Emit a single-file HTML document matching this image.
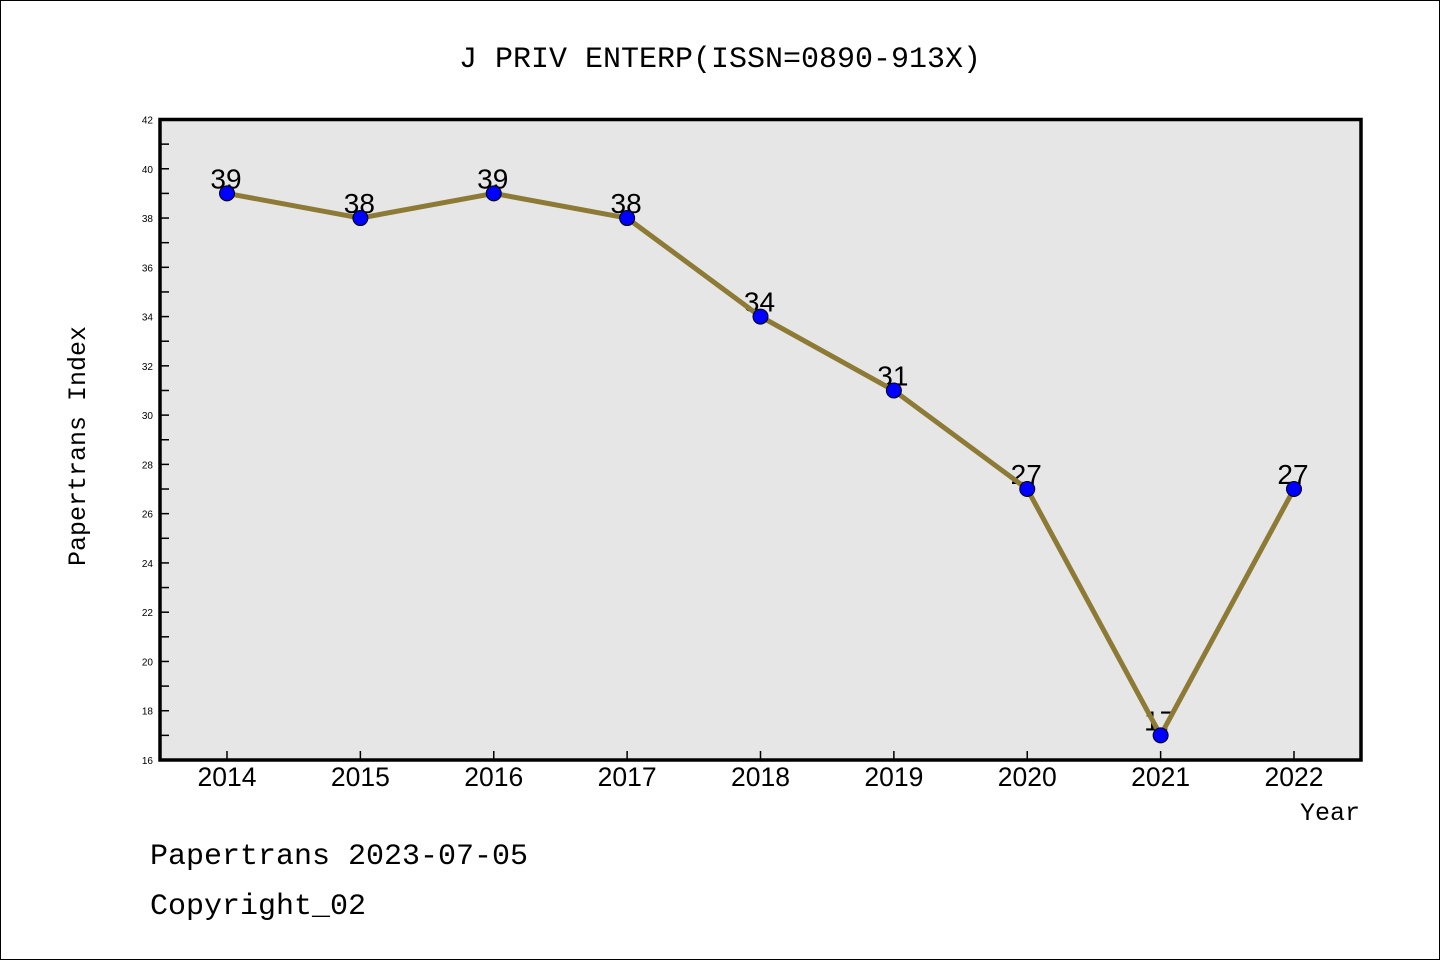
<!DOCTYPE html>
<html><head><meta charset="utf-8"><style>
html,body{margin:0;padding:0;background:#fff}
svg{display:block}
.mono{font-family:"Liberation Mono","WenQuanYi Zen Hei",monospace}
.sans{font-family:"Liberation Sans","WenQuanYi Zen Hei",sans-serif}
</style></head><body>
<svg id="chart" width="1440" height="960">
<rect x="0.5" y="0.5" width="1439" height="959" fill="#fff" stroke="#000"/>
<text x="720" y="67" text-anchor="middle" class="mono" font-size="30">J PRIV ENTERP(ISSN=0890-913X)</text>
<rect x="160" y="119.5" width="1201" height="640.5" fill="#e6e6e6"/>
<g id="yaxis"></g><g id="xaxis"></g><g id="labels"></g><g id="series"></g>
<rect x="160" y="119.5" width="1201" height="640.5" fill="none" stroke="#000" stroke-width="3.5"/>
<text x="85" y="446" transform="rotate(-90 85 446)" text-anchor="middle" class="mono" font-size="25">Papertrans Index</text>
<text x="1360" y="820" text-anchor="end" class="mono" font-size="25">Year</text>
<text x="150" y="864" class="mono" font-size="30">Papertrans 2023-07-05</text>
<text x="150" y="914" class="mono" font-size="30">Copyright_02</text>
</svg>
<script>
const years = [2014,2015,2016,2017,2018,2019,2020,2021,2022];
const values = [39,38,39,38,34,31,27,17,27];
const yTicks = [16,18,20,22,24,26,28,30,32,34,36,38,40,42];
const NS="http://www.w3.org/2000/svg";
const X0=227, XS=(1294-227)/8, Y16=760, YS=(760-119.5)/26;
const xS=i=>X0+i*XS, yS=v=>Y16-(v-16)*YS;
function mk(tag,attrs,parent,text){const e=document.createElementNS(NS,tag);for(const k in attrs)e.setAttribute(k,attrs[k]);if(text!==undefined)e.textContent=text;document.getElementById(parent).appendChild(e);return e;}
for(let v=17; v<=41; v+=2){
  const t=mk('line',{x1:160,x2:169,y1:yS(v),y2:yS(v),stroke:'#000','stroke-width':1.5},'yaxis');
  
  
}
yTicks.forEach(v=>{
  const t=mk('line',{x1:160,x2:169,y1:yS(v),y2:yS(v),stroke:'#000','stroke-width':1.5},'yaxis');
  
  
  const l=mk('text',{x:153,y:yS(v)+4,'text-anchor':'end','font-size':10,class:'sans'},'yaxis',String(v));
  
  
});
years.forEach((yr,i)=>{
  const t=mk('line',{x1:xS(i),x2:xS(i),y1:760,y2:751,stroke:'#000','stroke-width':1.5},'xaxis');
  
  
  const l=mk('text',{x:xS(i),y:786,'text-anchor':'middle','font-size':26.5,class:'sans'},'xaxis',String(yr));
  
  
  const d=mk('text',{x:xS(i)-1,y:yS(values[i])-5,'text-anchor':'middle','font-size':28,class:'sans'},'labels',String(values[i]));
  
  
});
const line=mk('polyline',{points:values.map((v,i)=>xS(i)+','+yS(v)).join(' '),fill:'none',stroke:'#8c7a35','stroke-width':5,'stroke-linejoin':'round'},'series');


values.forEach((v,i)=>{
  const c=mk('circle',{cx:xS(i),cy:yS(v),r:7.5,fill:'#0000ff',stroke:'#000','stroke-width':1},'series');
  
  
});
</script>
</body></html>
